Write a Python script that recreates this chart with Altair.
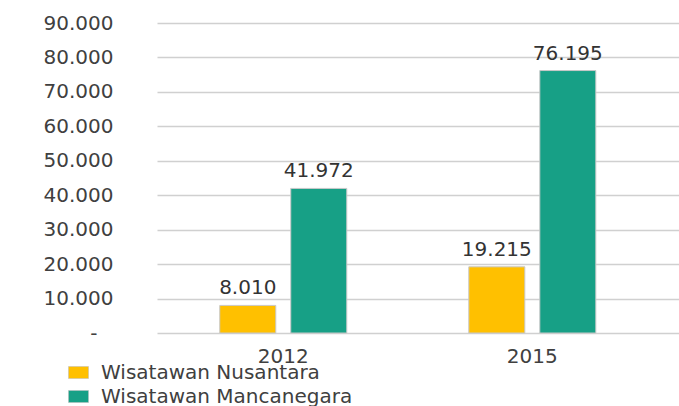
import altair as alt
import pandas as pd

years = ["2012", "2015"]
series = ["Wisatawan Nusantara", "Wisatawan Mancanegara"]
nusantara = [8010, 19215]
mancanegara = [41972, 76195]
colors = ["#FFC000", "#17A086"]
y_ticks = [0, 10000, 20000, 30000, 40000, 50000, 60000, 70000, 80000, 90000]

rows = []
for i, y in enumerate(years):
    rows.append({"year": y, "series": series[0], "value": nusantara[i]})
    rows.append({"year": y, "series": series[1], "value": mancanegara[i]})
df = pd.DataFrame(rows)

FONT = "DejaVu Sans"
FS = 20
TXT = "#404040"

x = alt.X("year:N", sort=years, title=None,
          scale=alt.Scale(paddingInner=0.49, paddingOuter=0.293, align=0.43),
          axis=alt.Axis(labelAngle=0, domain=False, ticks=False, labelPadding=13,
                        labelFont=FONT, labelFontSize=FS, labelColor=TXT, grid=False))
xo = alt.XOffset("series:N", sort=series,
                 scale=alt.Scale(paddingInner=0.211, paddingOuter=0))
y = alt.Y("value:Q", title=None,
          scale=alt.Scale(domain=[0, 90000], nice=False),
          axis=alt.Axis(values=y_ticks, domain=False, ticks=False,
                        labelOverlap=False, labelFlush=False,
                        labelPadding={"condition": {"test": "datum.value == 0", "value": 60}, "value": 44},
                        labelFont=FONT, labelFontSize=FS, labelColor=TXT,
                        gridColor="#d0d0d0", gridWidth=1.3,
                        labelExpr="datum.value == 0 ? '-' : replace(format(datum.value, ',.0f'), ',', '.')"))

color = alt.Color("series:N", sort=series, title=None,
                  scale=alt.Scale(domain=series, range=colors),
                  legend=alt.Legend(orient="none", legendX=-89, legendY=339,
                                    symbolType="M-1,-0.6H1V0.6H-1Z", symbolSize=400,
                                    symbolStrokeWidth=0.5, symbolStrokeColor="#bbbbbb",
                                    labelFont=FONT, labelFontSize=FS, labelColor=TXT,
                                    labelOffset=12, rowPadding=3, labelLimit=0))

base = alt.Chart(df).encode(x=x, xOffset=xo, y=y)

bars = base.mark_bar(stroke="#c8c8c8", strokeWidth=1).encode(color=color)

labels = base.transform_calculate(
    label="replace(format(datum.value, ',.0f'), ',', '.')"
).mark_text(baseline="bottom", dy=-7, font=FONT, fontSize=FS, color="#333333").encode(
    text="label:N")

chart = alt.layer(bars, labels).properties(
    width=522, height=310,
    autosize=alt.AutoSizeParams(type="none"),
    padding={"left": 157, "top": 23, "right": 0, "bottom": 73},
).configure(background="white", view=alt.ViewConfig(stroke=None))

chart.save("out.html", embed_options={"renderer": "svg", "actions": False})
